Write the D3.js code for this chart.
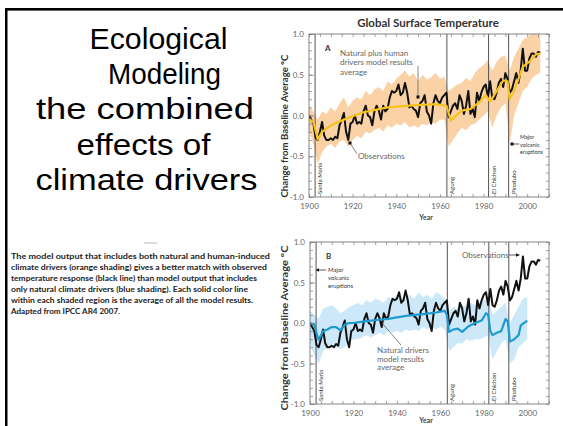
<!DOCTYPE html>
<html>
<head>
<meta charset="utf-8">
<script src="https://cdn.jsdelivr.net/npm/d3@7"></script>
<style>
  body { margin: 0; background: #fff; }
  svg { display: block; }
</style>
</head>
<body>
<div id="viz"></div>
<script>
// observed global temperature anomaly, one value per year
const obsYears = d3.range(1900, 2007);
const obsValues = [
  0.00, -0.05, -0.10, -0.27, -0.30, -0.20, -0.08, -0.25, -0.30, -0.30,
  -0.28, -0.30, -0.26, -0.28, -0.12, -0.05, 0.03, -0.20, -0.30, -0.10,
  -0.08, 0.00, -0.10, -0.08, -0.10, 0.05, 0.12, 0.00, -0.02, -0.12,
  0.05, 0.12, 0.06, -0.05, 0.12, 0.05, 0.08, 0.22, 0.30, 0.28,
  0.30, 0.38, 0.25, 0.28, 0.40, 0.28, 0.10, 0.12, 0.08, 0.06,
  -0.02, 0.15, 0.18, 0.25, 0.05, 0.00, -0.10, 0.15, 0.25, 0.18,
  0.15, 0.22, 0.25, 0.28, -0.02, 0.05, 0.12, 0.15, 0.08, 0.25,
  0.18, 0.02, 0.12, 0.30, 0.02, 0.08, -0.02, 0.28, 0.18, 0.28,
  0.35, 0.38, 0.22, 0.42, 0.22, 0.20, 0.28, 0.40, 0.45, 0.35,
  0.52, 0.45, 0.28, 0.32, 0.42, 0.52, 0.40, 0.55, 0.82, 0.55,
  0.55, 0.70, 0.76, 0.76, 0.72, 0.78, 0.77
];

// natural + human drivers model average (panel A)
const mixYears = [1900, 1902, 1904, 1906, 1910, 1917, 1925, 1936, 1946, 1958, 1963, 1965,
  1970, 1974, 1978, 1981, 1983, 1986, 1989, 1991, 1992, 1994, 1998, 2001, 2004, 2006];
const mixMean = [-0.04, -0.08, -0.29, -0.2, -0.12, -0.04, 0.04, 0.1, 0.12, 0.14, 0.12, -0.06,
  0.06, 0.08, 0.16, 0.25, 0.17, 0.3, 0.43, 0.42, 0.2, 0.3, 0.6, 0.66, 0.75, 0.76];

// model spread, every two years
const bandYears = d3.range(1900, 2008, 2);
const mixHigh = [0.12, 0.05, -0.05, 0.05, 0.02, 0.1, 0.05, 0.15, 0.22, 0.1,
  0.18, 0.22, 0.2, 0.3, 0.25, 0.32, 0.35, 0.3, 0.42, 0.38,
  0.45, 0.5, 0.55, 0.48, 0.52, 0.42, 0.5, 0.44, 0.47, 0.52,
  0.45, 0.48, 0.3, 0.34, 0.38, 0.4, 0.46, 0.42, 0.52, 0.58,
  0.62, 0.68, 0.55, 0.66, 0.72, 0.74, 0.55, 0.72, 0.82, 0.93,
  0.96, 1.0, 1.0, 0.98];
const mixLow = [-0.2, -0.35, -0.6, -0.45, -0.38, -0.35, -0.4, -0.32, -0.3, -0.38,
  -0.3, -0.25, -0.28, -0.2, -0.22, -0.18, -0.15, -0.2, -0.12, -0.15,
  -0.1, -0.12, -0.08, -0.15, -0.12, -0.15, -0.1, -0.12, -0.08, -0.1,
  -0.05, -0.05, -0.38, -0.3, -0.22, -0.15, -0.18, -0.12, -0.1, -0.05,
  0.0, 0.05, -0.15, 0.0, 0.1, 0.15, -0.35, 0.0, 0.15, 0.3,
  0.35, 0.45, 0.5, 0.52];

// natural drivers only model average (panel B)
const natYears = [1900, 1902, 1903, 1904, 1906, 1908, 1910, 1912, 1914, 1916, 1918, 1920,
  1925, 1928, 1932, 1936, 1940, 1945, 1952, 1958, 1962, 1963, 1964, 1966, 1968, 1970,
  1973, 1976, 1979, 1981, 1982, 1983, 1984, 1986, 1988, 1990, 1991, 1992, 1994, 1996,
  1997, 2000];
const natMean = [0.0, -0.02, -0.12, -0.21, -0.1, -0.08, -0.05, -0.05, -0.09, -0.02, 0.0, 0.0,
  0.02, 0.03, 0.04, 0.05, 0.07, 0.09, 0.11, 0.13, 0.15, 0.1, -0.11, -0.08, -0.07, -0.11,
  -0.04, 0.0, 0.03, 0.12, 0.1, -0.1, -0.15, -0.12, -0.1, 0.05, 0.02, -0.23, -0.2, -0.15,
  -0.03, 0.03];
const natBandYears = d3.range(1900, 2002, 2);
const natHigh = [0.15, 0.1, 0.05, 0.18, 0.2, 0.22, 0.18, 0.12, 0.15, 0.2,
  0.22, 0.25, 0.22, 0.28, 0.25, 0.3, 0.28, 0.25, 0.32, 0.3,
  0.35, 0.3, 0.32, 0.35, 0.3, 0.38, 0.32, 0.35, 0.3, 0.38,
  0.35, 0.3, 0.15, 0.2, 0.18, 0.22, 0.2, 0.25, 0.22, 0.25,
  0.28, 0.3, 0.1, 0.15, 0.2, 0.25, 0.0, 0.1, 0.2, 0.3, 0.32];
const natLow = [-0.25, -0.4, -0.5, -0.35, -0.3, -0.28, -0.3, -0.32, -0.3, -0.22,
  -0.2, -0.2, -0.18, -0.15, -0.18, -0.15, -0.12, -0.15, -0.1, -0.12,
  -0.1, -0.12, -0.08, -0.1, -0.08, -0.1, -0.05, -0.08, -0.05, -0.08,
  -0.05, -0.08, -0.35, -0.3, -0.25, -0.25, -0.2, -0.22, -0.2, -0.2,
  -0.18, -0.15, -0.45, -0.35, -0.25, -0.2, -0.5, -0.45, -0.3, -0.25, -0.2];

const volcanoes = ["Santa Maria", "Agung", "El Chichon", "Pinatubo"];
const volcanoYears = [1902.8, 1963.2, 1982.3, 1991.5];

const yMajor = [-1, -0.5, 0, 0.5, 1];
const xLabels = [1900, 1920, 1940, 1960, 1980, 2000];

const titleLines = ["Ecological", "Modeling", "the combined", "effects of", "climate drivers"];
const noteLines = [
  "The model output that includes both natural and human-induced",
  "climate drivers (orange shading) gives a better match with observed",
  "temperature response (black line) than model output that includes",
  "only natural climate drivers (blue shading). Each solid color line",
  "within each shaded region is the average of all the model results.",
  "Adapted from IPCC AR4 2007."
];

const svg = d3.select("#viz").append("svg")
  .attr("width", 563)
  .attr("height", 426);

// slide frame
svg.append("rect").attr("x", 5).attr("y", 8).attr("width", 558).attr("height", 2.6).attr("fill", "#000");
svg.append("rect").attr("x", 5).attr("y", 8).attr("width", 2.5).attr("height", 418).attr("fill", "#000");

// big slide title, each line centred where it sits on the slide
const titleX = [158.5, 164.5, 145, 143.5, 146.5];
const titleW = [138, 113, 218, 134, 222];
titleLines.forEach((t, i) => {
  svg.append("text")
    .attr("x", titleX[i])
    .attr("y", 49 + i * 35.2)
    .attr("text-anchor", "middle")
    .attr("textLength", titleW[i])
    .attr("lengthAdjust", "spacingAndGlyphs")
    .style("font-family", "Liberation Sans, Arial, sans-serif")
    .style("font-size", "30px")
    .attr("fill", "#000")
    .text(t);
});

svg.append("line").attr("x1", 144).attr("x2", 157).attr("y1", 243).attr("y2", 243)
  .attr("stroke", "#aaa").attr("stroke-width", 0.8);

const noteWidths = [259, 256, 246, 237, 242, 109];
noteLines.forEach((t, i) => {
  svg.append("text")
    .attr("x", 11)
    .attr("y", 258.5 + i * 11)
    .attr("textLength", noteWidths[i])
    .attr("lengthAdjust", "spacingAndGlyphs")
    .style("font-family", "Lato, Open Sans, sans-serif")
    .style("font-weight", "bold")
    .style("font-size", "8.3px")
    .attr("fill", "#222")
    .text(t);
});

svg.append("text")
  .attr("x", 428).attr("y", 27)
  .attr("text-anchor", "middle")
  .style("font-family", "Lato, Open Sans, sans-serif")
  .style("font-weight", "bold")
  .style("font-size", "11.5px")
  .attr("fill", "#333")
  .text("Global Surface Temperature");

const fmt = d => (d < 0 ? "-" : "") + Math.abs(d).toFixed(1);

function drawPanel(cfg) {
  const x = d3.scaleLinear([1900, 2010], [cfg.left, cfg.right]);
  const y = d3.scaleLinear([-1, 1], [cfg.bottom, cfg.top]);
  const g = svg.append("g");
  const clipId = "clip" + cfg.name;
  g.append("clipPath").attr("id", clipId).append("rect")
    .attr("x", cfg.left).attr("y", cfg.top)
    .attr("width", cfg.right - cfg.left).attr("height", cfg.bottom - cfg.top);
  const plot = g.append("g").attr("clip-path", `url(#${clipId})`);

  // shaded model spread
  const band = cfg.bandYears.map((yr, i) => ({ year: yr, lo: cfg.low[i], hi: cfg.high[i] }));
  plot.append("path")
    .datum(band)
    .attr("fill", cfg.bandColor)
    .attr("d", d3.area()
      .x(d => x(d.year)).y0(d => y(d.lo)).y1(d => y(d.hi)));

  // volcano lines
  volcanoYears.forEach((yr, i) => {
    plot.append("line")
      .attr("x1", x(yr)).attr("x2", x(yr))
      .attr("y1", cfg.top).attr("y2", cfg.bottom)
      .attr("stroke", "#555").attr("stroke-width", 1);
    g.append("text")
      .attr("transform", `translate(${x(yr) + 5},${cfg.bottom - 3}) rotate(-90)`)
      .attr("dy", "0.35em")
      .style("font-family", "Lato, Open Sans, sans-serif")
      .style("font-size", "6px")
      .attr("fill", "#333")
      .text(volcanoes[i]);
  });

  const obs = obsYears.map((yr, i) => ({ year: yr, v: obsValues[i] }));
  const mean = cfg.meanYears.map((yr, i) => ({ year: yr, v: cfg.mean[i] }));
  const line = d3.line().x(d => x(d.year)).y(d => y(d.v));

  plot.append("path").datum(obs)
    .attr("fill", "none").attr("stroke", "#111").attr("stroke-width", 2)
    .attr("stroke-linejoin", "round").attr("d", line);
  plot.append("path").datum(mean)
    .attr("fill", "none").attr("stroke", cfg.meanColor).attr("stroke-width", 2.2)
    .attr("stroke-linejoin", "round").attr("d", line);

  // frame and ticks
  g.append("rect")
    .attr("x", cfg.left).attr("y", cfg.top)
    .attr("width", cfg.right - cfg.left).attr("height", cfg.bottom - cfg.top)
    .attr("fill", "none").attr("stroke", "#666").attr("stroke-width", 0.8);

  const minorY = d3.range(-10, 11).map(d => d / 10);
  const minorX = d3.range(1900, 2011, 5);
  const tickStyle = sel => {
    sel.select(".domain").remove();
    sel.selectAll("line").attr("stroke", "#777").attr("stroke-width", 0.7);
    sel.selectAll("text")
      .style("font-family", "Lato, Open Sans, sans-serif")
      .style("font-size", "8px")
      .attr("fill", "#666");
  };
  g.append("g").attr("transform", `translate(${cfg.left},0)`)
    .call(d3.axisLeft(y).tickValues(minorY).tickSize(-3).tickFormat("")).call(tickStyle);
  g.append("g").attr("transform", `translate(${cfg.left},0)`)
    .call(d3.axisLeft(y).tickValues(yMajor).tickSize(-5).tickPadding(5).tickFormat(fmt)).call(tickStyle);
  g.append("g").attr("transform", `translate(${cfg.right},0)`)
    .call(d3.axisRight(y).tickValues(minorY).tickSize(-3).tickFormat("")).call(tickStyle);
  g.append("g").attr("transform", `translate(0,${cfg.bottom})`)
    .call(d3.axisBottom(x).tickValues(minorX).tickSize(-3).tickFormat("")).call(tickStyle);
  g.append("g").attr("transform", `translate(0,${cfg.bottom})`)
    .call(d3.axisBottom(x).tickValues(xLabels).tickSize(0).tickPadding(6).tickFormat(d3.format("d"))).call(tickStyle);
  g.append("g").attr("transform", `translate(0,${cfg.top})`)
    .call(d3.axisTop(x).tickValues(minorX).tickSize(-3).tickFormat("")).call(tickStyle);

  g.append("text")
    .attr("x", 426).attr("y", Math.min(cfg.bottom + 23, 423))
    .attr("text-anchor", "middle")
    .style("font-family", "Lato, Open Sans, sans-serif")
    .style("font-weight", "bold").style("font-size", "7px")
    .attr("fill", "#444").text("Year");

  g.append("text")
    .attr("transform", `translate(${cfg.ylabX},${cfg.ylabY}) rotate(-90)`)
    .attr("text-anchor", "middle")
    .attr("textLength", cfg.ylabLen)
    .attr("lengthAdjust", "spacingAndGlyphs")
    .style("font-family", "Lato, Open Sans, sans-serif")
    .style("font-weight", "bold").style("font-size", "8.5px")
    .attr("fill", "#333").text("Change from Baseline Average °C");

  g.append("text")
    .attr("x", cfg.left + 16).attr("y", y(0.79))
    .style("font-family", "Lato, Open Sans, sans-serif")
    .style("font-weight", "bold").style("font-size", "8px")
    .attr("fill", "#333").text(cfg.name);

  return { g, x, y };
}

const ann = (g, lines, x0, y0, step, size, color) => {
  lines.forEach((t, i) => {
    g.append("text").attr("x", x0).attr("y", y0 + i * step)
      .style("font-family", "Lato, Open Sans, sans-serif")
      .style("font-size", size + "px")
      .attr("fill", color).text(t);
  });
};

// panel A
const A = drawPanel({
  name: "A", left: 309, right: 549, top: 34, bottom: 197,
  bandYears: bandYears, low: mixLow, high: mixHigh, bandColor: "#fbd2a6",
  meanYears: mixYears, mean: mixMean, meanColor: "#f6c21c",
  ylabX: 288, ylabY: 126, ylabLen: 143
});
ann(A.g, ["Natural plus human", "drivers model results", "average"], 340, 56, 9.3, 8, "#666");
A.g.append("line").attr("x1", 418).attr("x2", 418).attr("y1", 66).attr("y2", 97)
  .attr("stroke", "#666").attr("stroke-width", 0.8);
A.g.append("rect").attr("x", 416.5).attr("y", 95.5).attr("width", 3).attr("height", 3).attr("fill", "#111");
ann(A.g, ["Observations"], 358, 159, 0, 8, "#666");
A.g.append("line").attr("x1", 357).attr("x2", 350).attr("y1", 154).attr("y2", 143)
  .attr("stroke", "#666").attr("stroke-width", 0.8);
A.g.append("rect").attr("x", 348.5).attr("y", 141.5).attr("width", 3).attr("height", 3).attr("fill", "#111");
ann(A.g, ["Major", "volcanic", "eruptions"], 520, 139, 7.5, 5.5, "#333");
A.g.append("line").attr("x1", 512).attr("x2", 519).attr("y1", 144).attr("y2", 144)
  .attr("stroke", "#333").attr("stroke-width", 0.8);
A.g.append("rect").attr("x", 510.5).attr("y", 142.5).attr("width", 3).attr("height", 3).attr("fill", "#111");

// panel B
const B = drawPanel({
  name: "B", left: 310, right: 549, top: 242, bottom: 404,
  bandYears: natBandYears, low: natLow, high: natHigh, bandColor: "#cde8f8",
  meanYears: natYears, mean: natMean, meanColor: "#1f9bd1",
  ylabX: 288, ylabY: 328, ylabLen: 165
});
ann(B.g, ["Major", "volcanic", "eruptions"], 328, 272, 8, 6, "#333");
B.g.append("line").attr("x1", 326).attr("x2", 318).attr("y1", 270).attr("y2", 270)
  .attr("stroke", "#333").attr("stroke-width", 0.8);
B.g.append("path").attr("d", "M315.5,270 L319,268.3 L319,271.7 Z").attr("fill", "#111");
ann(B.g, ["Observations"], 462, 258, 0, 8, "#666");
B.g.append("line").attr("x1", 509).attr("x2", 516).attr("y1", 255).attr("y2", 255)
  .attr("stroke", "#333").attr("stroke-width", 0.8);
B.g.append("path").attr("d", "M520,255 L516,253.2 L516,256.8 Z").attr("fill", "#111");
ann(B.g, ["Natural drivers", "model results", "average"], 377, 353, 8.5, 8, "#666");
B.g.append("line").attr("x1", 401).attr("x2", 382).attr("y1", 345).attr("y2", 323)
  .attr("stroke", "#666").attr("stroke-width", 0.8);
</script>
</body>
</html>
